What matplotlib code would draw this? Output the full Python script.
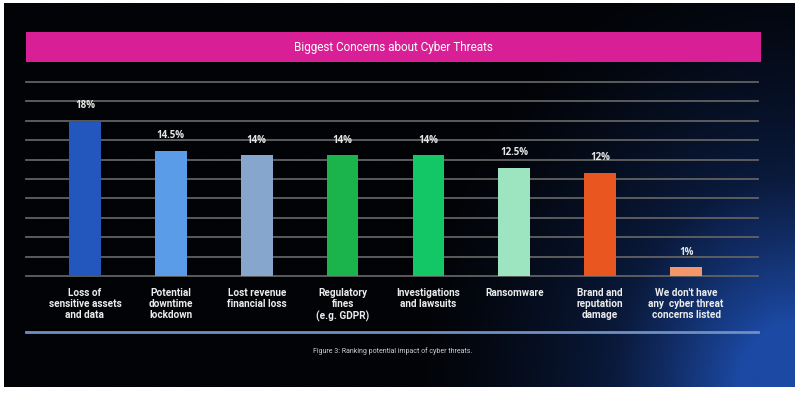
import matplotlib.pyplot as plt
import numpy as np
from matplotlib.patches import Rectangle
from matplotlib.colors import LinearSegmentedColormap

# data
categories = [
    "Loss of\nsensitive assets\nand data",
    "Potential\ndowntime\nlockdown",
    "Lost revenue\nfinancial loss",
    "Regulatory\nfines\n(e.g. GDPR)",
    "Investigations\nand lawsuits",
    "Ransomware",
    "Brand and\nreputation\ndamage",
    "We don't have\nany  cyber threat\nconcerns listed",
]
values = [18, 14.5, 14, 14, 14, 12.5, 12, 1]
value_labels = ["18%", "14.5%", "14%", "14%", "14%", "12.5%", "12%", "1%"]
colors = ["#2457bd", "#5b9ce8", "#86a6cd", "#1bb44c", "#14c766", "#9de4c0",
          "#e9561f", "#f3966a"]

title = "Biggest Concerns about Cyber Threats"
caption = "Figure 3: Ranking potential impact of cyber threats."

W, H = 800, 394
fig = plt.figure(figsize=(W / 100, H / 100), dpi=100, facecolor="white")

def fx(px):
    return px / W

def fy(py):
    return 1 - py / H

# dark panel with blue glow in the bottom right corner
bg = fig.add_axes([fx(4), fy(387), fx(791), 384 / H])
bg.set_axis_off()
gx, gy = np.meshgrid(np.linspace(0, 1, 400), np.linspace(0, 1, 200))
d = np.sqrt(((1 - gx) / 0.5) ** 2 + ((1 - gy) / 1.2) ** 2)
glow = np.clip(1 - d, 0, 1) ** 1.5
cmap = LinearSegmentedColormap.from_list("bg", ["#020306", "#0a1a3c", "#1c49a3"])
bg.imshow(glow, cmap=cmap, aspect="auto", extent=(0, 1, 0, 1), origin="upper",
          vmin=0, vmax=0.8)
bg.set_xlim(0, 1)
bg.set_ylim(0, 1)

# pink banner
fig.patches.append(Rectangle((fx(26), fy(62)), fx(735), 30 / H,
                             transform=fig.transFigure, facecolor="#d91f95",
                             edgecolor="none", zorder=2))
fig.text(fx(393), fy(47), title, color="white", fontsize=8.5, family="Roboto",
         ha="center", va="center", zorder=3)

# bar chart
ax = fig.add_axes([fx(26), fy(276), fx(732), 194 / H])
ax.set_facecolor("none")
x = np.arange(len(values))
ax.set_xlim(-0.686, len(values) - 1 + 0.837)
ax.set_ylim(0, 22.5)

for g in np.arange(0, 22.51, 2.25):
    ax.axhline(g, color="#626262", lw=1.3, zorder=1, clip_on=False)

ax.bar(x, values, width=0.37, color=colors, zorder=2)

for xi, v, lab in zip(x, values, value_labels):
    ax.annotate(lab, (xi, v), xytext=(0, 11), textcoords="offset points",
                ha="center", va="center", color="#e6e6e6", fontsize=7,
                fontweight="bold", family="Open Sans")

for xi, cat in zip(x, categories):
    ax.annotate(cat, (xi, 0), xytext=(0, -9), textcoords="offset points",
                ha="center", va="top", color="#ececec", fontsize=7.2,
                fontweight="bold", family="Roboto", linespacing=1.12)

ax.set_xticks([])
ax.set_yticks([])
for s in ax.spines.values():
    s.set_visible(False)

# separator line and caption
fig.add_artist(plt.Line2D([fx(26), fx(758)], [fy(332), fy(332)],
                          color="#6f8fc0", lw=2))
fig.text(fx(393), fy(351), caption, color="#cfcfcf", fontsize=5,
         family="Roboto", ha="center", va="center")

fig.savefig("out.png", dpi=100, facecolor="white")
